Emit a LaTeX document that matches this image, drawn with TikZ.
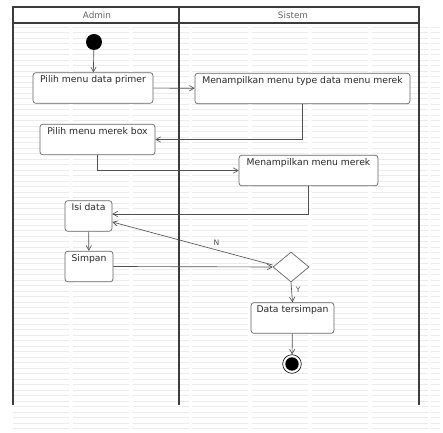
\documentclass[tikz,border=0pt]{standalone}
\usepackage{fontspec}
\setmainfont{DejaVu Sans}
\usetikzlibrary{
  shapes.geometric,
  arrows.meta,
  positioning,
  calc
}
\definecolor{lanecolor}{RGB}{60,60,60}
\definecolor{boxcolor}{RGB}{100,100,100}
\definecolor{arrowcolor}{RGB}{80,80,80}
\definecolor{labelcolor}{RGB}{40,40,40}
\definecolor{headcolor}{RGB}{100,100,100}
\definecolor{bgline}{RGB}{236,236,236}
\tikzset{
actbox/.style={
  draw=boxcolor,
  rounded corners=2.5pt,
  fill=white,
  line width=0.6pt,
  font=\fontsize{7.9}{8}\selectfont,
  text=labelcolor,
  inner xsep=1pt,
  inner ysep=2pt,
  text height=0.23cm,
  text depth=0.55cm
},
decision/.style={
  diamond,
  draw=boxcolor,
  fill=white,
  line width=0.6pt,
  minimum width=1.08cm,
  minimum height=0.9cm,
  inner sep=0pt
},
startnode/.style={
  circle,
  fill=black,
  minimum size=0.48cm,
  inner sep=0pt
},
endnode/.style={
  circle,
  draw=black,
  line width=0.5pt,
  minimum size=0.56cm,
  inner sep=0pt,
  path picture={\fill[black] (path picture bounding box.center) circle (0.2cm);}
},
lane/.style={
  draw=lanecolor,
  line width=1.4pt
},
lanehead/.style={
  font=\fontsize{7.5}{8}\selectfont,
  text=headcolor
},
arrow/.style={
  -{Straight Barb[length=1.4mm,width=1.6mm]},
  line width=0.55pt,
  draw=arrowcolor
},
guardlabel/.style={
  font=\fontsize{6.5}{7}\selectfont,
  text=arrowcolor
}
}
\begin{document}
\begin{tikzpicture}[x=0.03cm, y=-0.03cm]
\useasboundingbox (0,0) rectangle (443,433);

% latar bergaris
\foreach \yy in {27,32.5,...,430}{
  \draw[bgline, line width=0.5pt, dash pattern=on 48pt off 3pt] (13,\yy) -- (440,\yy);
}

% swimlane
\draw[lane] (13,405) -- (13,7) -- (419,7) -- (419,405);
\draw[lane] (179,7) -- (179,405);
\draw[lane] (13,23) -- (419,23);
\node[lanehead] (hadmin) at (97,15) {Admin};
\node[lanehead] (hsistem) at (293,15) {Sistem};

% aktivitas
\node[startnode] (start) at (94,42) {};
\node[actbox, minimum width=3.6cm] (primer) at (93,88) {Pilih menu data primer};
\node[actbox, minimum width=6.45cm] (tipe) at (302.5,88.5) {Menampilkan menu type data menu merek};
\node[actbox, minimum width=3.45cm] (merekbox) at (97.5,139.5) {Pilih menu merek box};
\node[actbox, minimum width=4.17cm] (merek) at (308.5,170.5) {Menampilkan menu merek};
\node[actbox, minimum width=1.41cm] (isi) at (88.5,216) {Isi data};
\node[actbox, minimum width=1.44cm] (simpan) at (89,266.5) {Simpan};
\node[decision] (cek) at (291,267) {};
\node[actbox, minimum width=2.49cm] (tersimpan) at (292.5,318) {Data tersimpan};
\node[endnode] (selesai) at (292,364) {};

% alur
\draw[arrow] (start) -- (primer);
\draw[arrow] (primer) -- (tipe);
\draw[arrow] (tipe.south) |- (merekbox.east);
\draw[arrow] (merekbox.south) |- (merek.west);
\draw[arrow] (merek.south) |- ([yshift=0.06cm]isi.east);
\draw[arrow] (isi) -- (simpan);
\draw[arrow] (simpan.east) -- (cek.west);
\draw[arrow] ([yshift=0.06cm]cek.west) -- node[guardlabel, above, pos=0.35] {N} ([yshift=-0.18cm]isi.east);
\draw[arrow] (cek.south) -- node[guardlabel, right, pos=0.35] {Y} (tersimpan.north);
\draw[arrow] (tersimpan) -- (selesai);

\end{tikzpicture}
\end{document}
